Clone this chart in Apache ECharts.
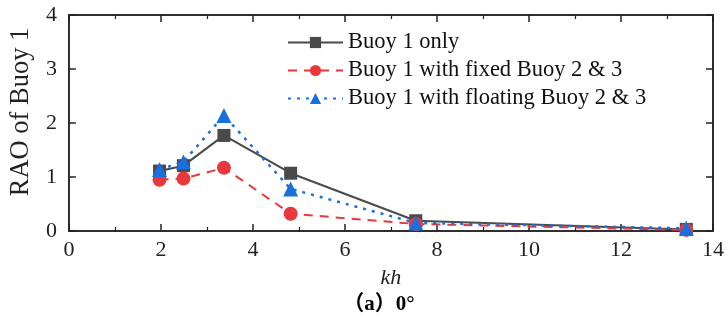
<!DOCTYPE html>
<html><head><meta charset="utf-8">
<script src="https://cdn.jsdelivr.net/npm/echarts@6/dist/echarts.min.js"></script>
<style>html,body{margin:0;padding:0;background:#fff}#c{width:727px;height:320px}</style>
</head><body><div id="c"></div>
<script>
const kh = [1.97, 2.49, 3.37, 4.82, 7.54, 13.42];
const buoyOnly = [1.11, 1.21, 1.77, 1.07, 0.19, 0.03];
const fixedBuoys = [0.95, 0.97, 1.17, 0.32, 0.13, 0.02];
const floatingBuoys = [1.14, 1.28, 2.14, 0.78, 0.15, 0.05];
const seriesNames = ['Buoy 1 only', 'Buoy 1 with fixed Buoy 2 & 3', 'Buoy 1 with floating Buoy 2 & 3'];
const xTicks = [0, 2, 4, 6, 8, 10, 12, 14];
const yTicks = [0, 1, 2, 3, 4];

const serif = '"Liberation Serif", "Times New Roman", serif';
const pair = (xs, ys) => xs.map((x, i) => [x, ys[i]]);
const chart = echarts.init(document.getElementById('c'));
const mkLine = () => ({show: true, onZero: false, lineStyle: {color: '#222', width: 1.5}});
const mkTick = () => ({show: true, inside: true, length: 7, lineStyle: {color: '#222', width: 1.5}});
const mkMinor = () => ({show: true, splitNumber: 2, length: 4, lineStyle: {color: '#222', width: 1.2}});
chart.setOption({
  animation: false,
  backgroundColor: '#fff',
  grid: {left: 66, right: 12, top: 15, bottom: 89, show: true, borderColor: '#222', borderWidth: 1.5, backgroundColor: 'transparent'},
  title: {text: '（a）0°', left: 374, top: 289, textAlign: 'center',
    textStyle: {fontFamily: '"Liberation Serif", "Noto Sans CJK SC", serif', fontWeight: 'bold', fontSize: 21, color: '#000'}},
  legend: {
    orient: 'vertical', left: 282, top: 26, itemWidth: 55, itemHeight: 14, itemGap: 5,
    textStyle: {fontFamily: serif, fontSize: 22.5, color: '#111'},
    data: seriesNames
  },
  xAxis: [{
    type: 'value', min: xTicks[0], max: xTicks[xTicks.length - 1], interval: 2,
    name: 'kh', nameLocation: 'middle', nameGap: 36,
    nameTextStyle: {fontFamily: serif, fontStyle: 'italic', fontSize: 22, color: '#222'},
    axisLine: mkLine(), axisTick: mkTick(), minorTick: mkMinor(),
    axisLabel: {fontFamily: serif, fontSize: 22, color: '#222', margin: 8},
    splitLine: {show: false}
  }, {
    type: 'value', position: 'top', min: xTicks[0], max: xTicks[xTicks.length - 1], interval: 2,
    axisLine: mkLine(), axisTick: mkTick(), minorTick: mkMinor(),
    axisLabel: {show: false}, splitLine: {show: false}
  }],
  yAxis: [{
    type: 'value', min: yTicks[0], max: yTicks[yTicks.length - 1], interval: 1,
    name: 'RAO of Buoy 1', nameLocation: 'middle', nameGap: 27, nameRotate: 90,
    nameTextStyle: {fontFamily: serif, fontSize: 26.5, color: '#222', padding: [0, 0, 0, 22]},
    axisLine: mkLine(), axisTick: mkTick(),
    axisLabel: {fontFamily: serif, fontSize: 22, color: '#222', margin: 12},
    splitLine: {show: false}
  }, {
    type: 'value', position: 'right', min: yTicks[0], max: yTicks[yTicks.length - 1], interval: 1,
    axisLine: mkLine(), axisTick: mkTick(),
    axisLabel: {show: false}, splitLine: {show: false}
  }],
  series: [{
    name: seriesNames[0], type: 'line', data: pair(kh, buoyOnly),
    symbol: 'rect', symbolSize: 13, z: 2,
    lineStyle: {color: '#4a4a4a', width: 2}, itemStyle: {color: '#4a4a4a'}
  }, {
    name: seriesNames[1], type: 'line', data: pair(kh, fixedBuoys),
    symbol: 'circle', symbolSize: 14, z: 3,
    lineStyle: {color: '#e8383d', width: 2, type: [9, 7]}, itemStyle: {color: '#e8383d'}
  }, {
    name: seriesNames[2], type: 'line', data: pair(kh, floatingBuoys),
    symbol: 'triangle', symbolSize: 15, z: 4,
    lineStyle: {color: '#1a6fdf', width: 2.5, type: [3, 6]}, itemStyle: {color: '#1a6fdf'}
  }, {
    name: 'frame', type: 'line', data: [], xAxisIndex: 1, yAxisIndex: 1, silent: true
  }]
});
</script></body></html>
